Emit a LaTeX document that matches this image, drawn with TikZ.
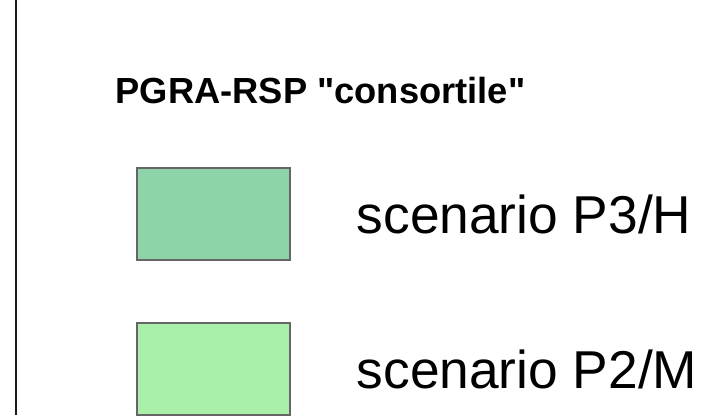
\documentclass[tikz,border=0pt]{standalone}
\usepackage{fontspec}
\setmainfont{Liberation Sans}
\newcommand{\sq}{\XeTeXglyph\XeTeXglyphindex "quotedbl" \relax}
\begin{document}
\begin{tikzpicture}[x=1pt,y=-1pt,
  legbox/.style={draw=black!60,line width=1.5pt,inner sep=0pt,minimum width=153pt,minimum height=92pt,anchor=north west},
  legtext/.style={anchor=base west,inner sep=0pt,font=\fontsize{53.3}{60}\selectfont},
  titletext/.style={anchor=base west,inner sep=0pt,font=\fontsize{36.3}{42}\selectfont\bfseries}]
\useasboundingbox (0,0) rectangle (727,415);
\coordinate (ltop) at (16,0);
\coordinate (lbot) at (16,415);
\draw[line width=1.8pt,black!90] (ltop) -- (lbot);
\node[titletext] (title) at (115.5,103) {PGRA-RSP \sq consortile\sq};
\node[legbox,fill={rgb,255:red,143;green,211;blue,168}] (b1) at (136,167) {};
\node[legbox,fill={rgb,255:red,168;green,240;blue,170}] (b2) at (136,322) {};
\node[legtext] (t1) at (356.5,233) {scenario P3/H};
\node[legtext] (t2) at (356.5,388) {scenario P2/M};
\end{tikzpicture}
\end{document}
